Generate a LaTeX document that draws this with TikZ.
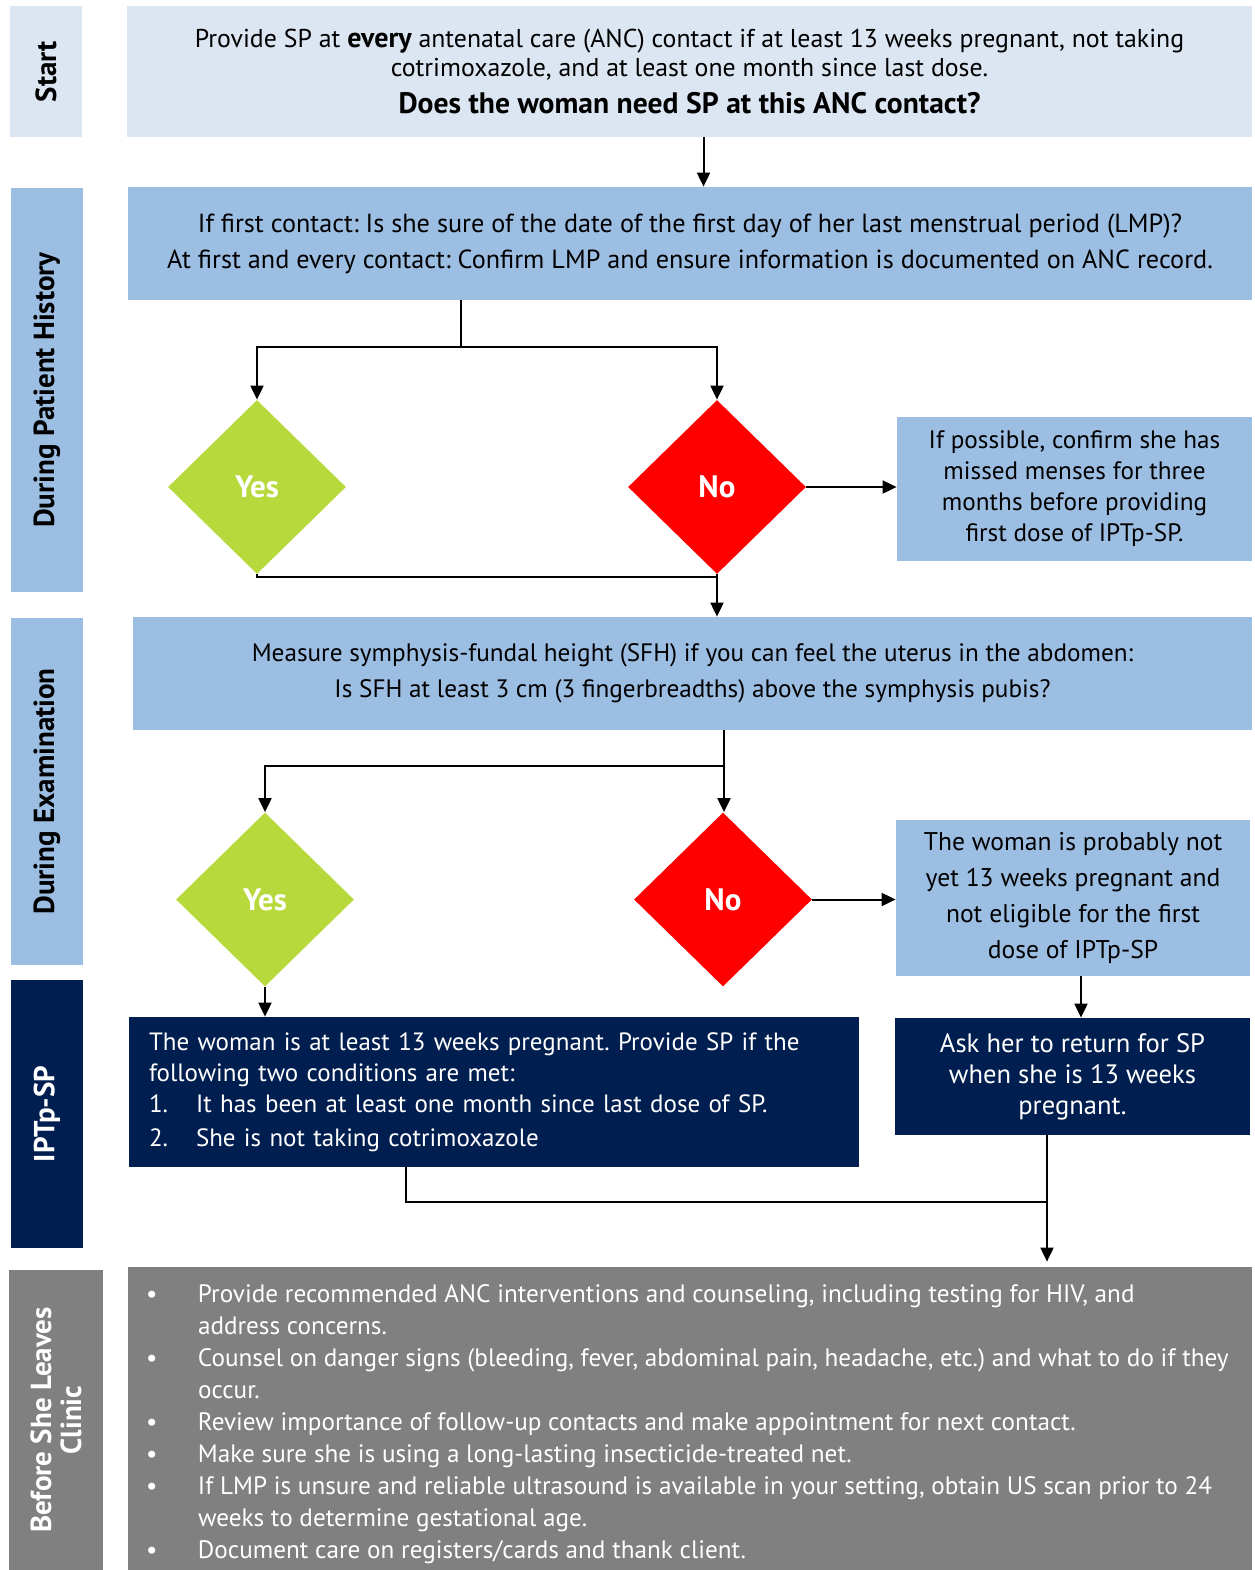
\documentclass[tikz,border=0pt]{standalone}
\usepackage{fontspec}
\setmainfont{PT Sans}
\usetikzlibrary{shapes.geometric,arrows.meta}
\definecolor{palebl}{HTML}{DCE6F2}
\definecolor{midbl}{HTML}{9DBEE3}
\definecolor{iptnavy}{HTML}{001F50}
\definecolor{yesgreen}{HTML}{B7D93B}
\definecolor{nored}{HTML}{FF0000}
\definecolor{greyb}{HTML}{808080}
\tikzset{
	band/.style={rotate=90, inner sep=0pt, align=center, font=\fontsize{14.5}{15}\selectfont\bfseries},
	box/.style={inner sep=0pt, align=center, font=\fontsize{12.9}{14.5}\selectfont},
	decide/.style={diamond, inner sep=0pt, minimum width=89pt, minimum height=87pt, text=white, font=\fontsize{15.5}{16}\selectfont\bfseries},
	link/.style={line width=1pt},
	arr/.style={link, -{Triangle[length=7pt,width=6.5pt]}}
}
\newcommand{\bul}{\makebox[24pt][l]{\kern-2pt\textbullet}}
\frenchspacing
\begin{document}
\begin{tikzpicture}[x=0.5pt,y=-0.5pt]
		\useasboundingbox (0,0) rectangle (1254,1570);

		\node[band, fill=palebl, minimum width=65.5pt, minimum height=36pt] (sstart) at (46,71.5) {Start};
		\node[band, fill=midbl, minimum width=202pt, minimum height=36pt] (shist) at (47,390) {During Patient History};
		\node[band, fill=midbl, minimum width=173.5pt, minimum height=36pt] (sexam) at (47,791.5) {During Examination};
		\node[band, fill=iptnavy, text=white, minimum width=134pt, minimum height=36pt] (siptp) at (47,1114) {IPTp-SP};
		\node[band, fill=greyb, text=white, minimum width=150pt, minimum height=47pt] (sleave) at (56,1420) {Before She Leaves\\Clinic};

		\node[box, fill=palebl, minimum width=562.5pt, minimum height=65.5pt] (start) at (689.5,71.5)
			{Provide SP at {\bfseries\fontsize{14}{14.5}\selectfont every} antenatal care (ANC) contact if at least 13 weeks pregnant, not taking\\
			cotrimoxazole, and at least one month since last dose.\\[4pt]
			{\bfseries\fontsize{14.8}{15}\selectfont Does the woman need SP at this ANC contact?}};
		\node[box, fill=midbl, minimum width=562pt, minimum height=56.5pt, font=\fontsize{13.1}{18}\selectfont] (hist) at (690,243.5)
			{If first contact: Is she sure of the date of the first day of her last menstrual period (LMP)?\\
			At first and every contact: Confirm LMP and ensure information is documented on ANC record.};

		\node[decide, fill=yesgreen] (yes1) at (257,487) {Yes};
		\node[decide, fill=nored] (no1) at (717,487) {No};
		\node[box, fill=midbl, minimum width=177.5pt, minimum height=72pt, font=\fontsize{12.6}{15.5}\selectfont] (poss) at (1074.5,489)
			{If possible, confirm she has\\missed menses for three\\months before providing\\first dose of IPTp-SP.};

		\node[box, fill=midbl, minimum width=559.5pt, minimum height=56.5pt, font=\fontsize{12.6}{18}\selectfont] (sfh) at (692.5,673.5)
			{Measure symphysis-fundal height (SFH) if you can feel the uterus in the abdomen:\\
			Is SFH at least 3 cm (3 fingerbreadths) above the symphysis pubis?};

		\node[decide, fill=yesgreen] (yes2) at (265,899.5) {Yes};
		\node[decide, fill=nored] (no2) at (723,899.5) {No};
		\node[box, fill=midbl, minimum width=177pt, minimum height=78pt, font=\fontsize{12.8}{18}\selectfont] (notyet) at (1073,898)
			{The woman is probably not\\yet 13 weeks pregnant and\\not eligible for the first\\dose of IPTp-SP};

		\node[box, fill=iptnavy, text=white, minimum width=365pt, minimum height=75pt, text width=345pt, align=left, font=\fontsize{12.5}{15.5}\selectfont] (iptp) at (494,1092)
			{The woman is at least 13 weeks pregnant. Provide SP if the\\
			following two conditions are met:\\
			\makebox[23.5pt][l]{1.}It has been at least one month since last dose of SP.\\[1.5pt]
			\makebox[23.5pt][l]{2.}She is not taking cotrimoxazole};
		\node[box, fill=iptnavy, text=white, minimum width=177.5pt, minimum height=58.5pt, font=\fontsize{13.3}{15.5}\selectfont] (ret) at (1072.5,1076.5)
			{Ask her to return for SP\\when she is 13 weeks\\pregnant.};

		\node[box, fill=greyb, minimum width=562pt, minimum height=151.5pt] (leave) at (690,1418.5) {};
		\node[box, anchor=west, align=left, text=white, font=\fontsize{12.6}{16}\selectfont] (leavetxt) at ([xshift=11pt,yshift=-3pt]leave.west)
			{\bul Provide recommended ANC interventions and counseling, including testing for HIV, and\\
			\hspace*{24pt}address concerns.\\
			\bul Counsel on danger signs (bleeding, fever, abdominal pain, headache, etc.) and what to do if they\\
			\hspace*{24pt}occur.\\
			\bul Review importance of follow-up contacts and make appointment for next contact.\\
			\bul Make sure she is using a long-lasting insecticide-treated net.\\
			\bul If LMP is unsure and reliable ultrasound is available in your setting, obtain US scan prior to 24\\
			\hspace*{24pt}weeks to determine gestational age.\\
			\bul Document care on registers/cards and thank client.};

		\draw[arr] ([xshift=7pt]start.south) -- ([xshift=7pt]start.south |- hist.north);

		\coordinate (hsplit) at (461,347);
		\draw[link] (hsplit |- hist.south) -- (hsplit);
		\draw[arr] (hsplit) -| (yes1.north);
		\draw[arr] (hsplit) -| (no1.north);

		\coordinate (hmerge) at (717,577);
		\draw[link] (yes1.south) |- (hmerge);
		\draw[arr] (no1.south) -- (no1.south |- sfh.north);
		\draw[arr] (no1.east) -- (no1.east -| poss.west);

		\coordinate (ssplit) at (724,766);
		\draw[link] (ssplit |- sfh.south) -- (ssplit);
		\draw[arr] (ssplit) -| (yes2.north);
		\draw[arr] (ssplit) -- (ssplit |- no2.north);
		\draw[arr] (no2.east) -- (no2.east -| notyet.west);

		\draw[arr] (yes2.south) -- (yes2.south |- iptp.north);
		\draw[arr] ([xshift=4pt]notyet.south) -- ([xshift=4pt]notyet.south |- ret.north);

		\coordinate (lmerge) at (1047,1202);
		\draw[link] ([xshift=-44pt]iptp.south) |- (lmerge);
		\draw[arr] ([xshift=-12.75pt]ret.south) -- (lmerge) -- ([yshift=2.5pt]lmerge |- leave.north);
	\end{tikzpicture}
\end{document}
